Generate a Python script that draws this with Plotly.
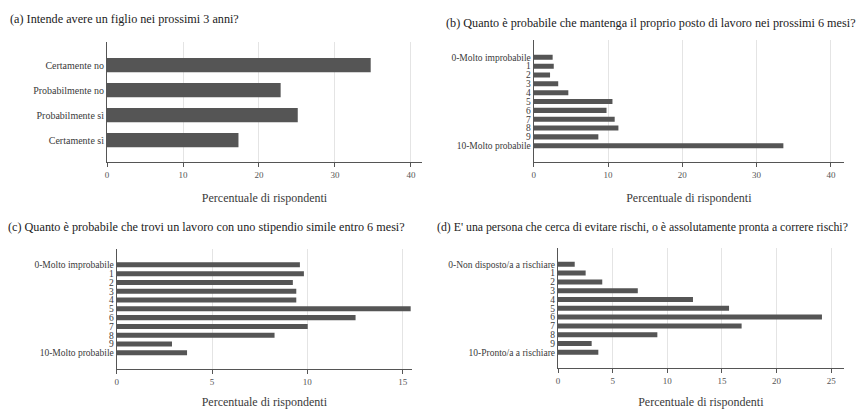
import plotly.graph_objects as go

# ---- data ----
cats_a = ["Certamente no", "Probabilmente no", "Probabilmente sì", "Certamente sì"]
vals_a = [34.7, 22.85, 25.1, 17.3]

cats_b = ["0-Molto improbabile", "1", "2", "3", "4", "5", "6", "7", "8", "9", "10-Molto probabile"]
vals_b = [2.55, 2.7, 2.2, 3.3, 4.66, 10.6, 9.8, 10.9, 11.4, 8.7, 33.6]

cats_c = ["0-Molto improbabile", "1", "2", "3", "4", "5", "6", "7", "8", "9", "10-Molto probabile"]
vals_c = [9.61, 9.82, 9.24, 9.42, 9.42, 15.42, 12.53, 10.02, 8.28, 2.9, 3.69]

cats_d = ["0-Non disposto/a a rischiare", "1", "2", "3", "4", "5", "6", "7", "8", "9", "10-Pronto/a a rischiare"]
vals_d = [1.53, 2.53, 4.05, 7.3, 12.35, 15.65, 24.15, 16.8, 9.09, 3.08, 3.69]

titles = [
    "(a) Intende avere un figlio nei prossimi 3 anni?",
    "(b) Quanto è probabile che mantenga il proprio posto di lavoro nei prossimi 6 mesi?",
    "(c) Quanto è probabile che trovi un lavoro con uno stipendio simile entro 6 mesi?",
    "(d) E' una persona che cerca di evitare rischi, o è assolutamente pronta a correre rischi?",
]
axis_title = "Percentuale di rispondenti"

# page body has an 8px default margin, so the figure is drawn 8px in
OFF = 8
W, H = 864 - OFF, 409 - OFF
FONT = "Liberation Serif"
BAR = "#555555"
TXT = "#3a3a3a"

def px(x):
    return (x - OFF) / W

def py(y):
    return 1 - (y - OFF) / H

panels = [
    # cats, vals, x-domain px, y-domain px (top,bottom), xrange max, dtick, yrange, yfont
    (cats_a, vals_a, (107, 422), (42, 162), 41.45, 10, [3.88, -0.92], 10),
    (cats_b, vals_b, (533.7, 844), (40, 162), 41.76, 10, [11.84, -1.96], 9.5),
    (cats_c, vals_c, (116.7, 412), (249, 369), 15.49, 5, [11.84, -1.8], 9.5),
    (cats_d, vals_d, (558, 843.7), (248.3, 368.3), 26.14, 5, [11.82, -1.82], 9.5),
]

fig = go.Figure()
layout = {}
for i, (cats, vals, xd, yd, xmax, dt, yr, yfs) in enumerate(panels, start=1):
    xa = "x" if i == 1 else f"x{i}"
    ya = "y" if i == 1 else f"y{i}"
    fig.add_trace(go.Bar(
        x=vals, y=cats, orientation="h", xaxis=xa, yaxis=ya,
        marker=dict(color=BAR, line=dict(width=0)), showlegend=False,
    ))
    xkey = "xaxis" if i == 1 else f"xaxis{i}"
    ykey = "yaxis" if i == 1 else f"yaxis{i}"
    layout[xkey] = dict(
        domain=[px(xd[0]), px(xd[1])], range=[0, xmax], anchor=ya,
        dtick=dt, tick0=0, showgrid=True, gridcolor="#e4e4e4", gridwidth=1,
        showline=True, linecolor="#555555", linewidth=1,
        ticks="outside", ticklen=4, tickcolor="#555555",
        tickfont=dict(family=FONT, size=9, color="#555555"), zeroline=False,
        automargin=False,
        title=dict(text=axis_title, font=dict(family=FONT, size=12, color=TXT), standoff=14),
    )
    layout[ykey] = dict(
        domain=[py(yd[1]), py(yd[0])], anchor=xa, type="category",
        categoryorder="array", categoryarray=cats, range=yr,
        tickmode="array", tickvals=cats, ticktext=cats,
        showline=True, linecolor="#555555", linewidth=1, showgrid=False,
        ticks="", ticklen=0, tickfont=dict(family=FONT, size=yfs, color=TXT),
        zeroline=False, automargin=False,
    )

fig.update_layout(**layout)
fig.update_layout(
    width=W, height=H, margin=dict(l=0, r=0, t=0, b=0, autoexpand=False),
    paper_bgcolor="white", plot_bgcolor="white", bargap=0.43,
    font=dict(family=FONT, color=TXT),
)

title_pos = [(8, 19), (444, 23), (6, 227), (435, 227)]
title_sizes = [12.2, 12.2, 12.2, 11.8]
for t, (tx, ty), fs in zip(titles, title_pos, title_sizes):
    fig.add_annotation(
        text=t, xref="paper", yref="paper", x=px(tx), y=py(ty),
        xanchor="left", yanchor="middle", showarrow=False,
        font=dict(family=FONT, size=fs, color="#222222"),
    )

fig.write_html("out.html")
